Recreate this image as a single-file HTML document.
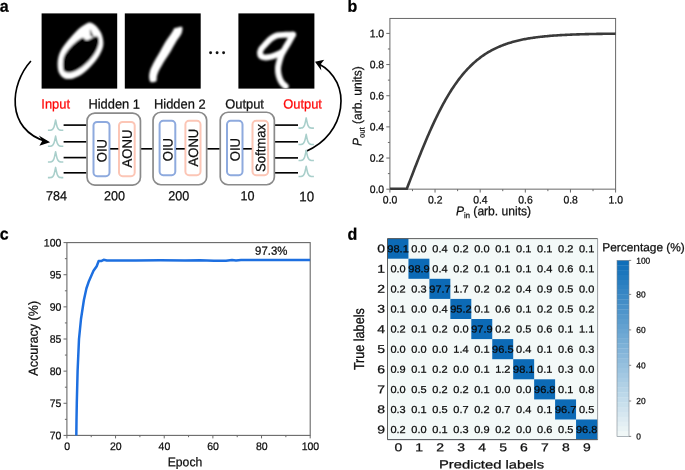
<!DOCTYPE html>
<html lang="en"><head><meta charset="utf-8"><title>Figure</title>
<style>html,body{margin:0;padding:0;background:#fff;}body{width:685px;height:470px;overflow:hidden;}svg{display:block;will-change:transform;}text{font-family:"Liberation Sans", Arial, Helvetica, sans-serif;stroke:#0f0f0f;stroke-width:0.24px;}.red{fill:#ff0808;stroke:#ff0808;}.pl{fill:#000;stroke:#000;}.ct{fill:#0a0a0a;stroke:#0a0a0a;}</style>
</head><body>
<svg width="685" height="470" viewBox="0 0 685 470" fill="#0f0f0f">
<defs>
<filter id="bl0" x="-20%" y="-20%" width="140%" height="140%"><feGaussianBlur stdDeviation="1.0"/></filter>
<filter id="bl1" x="-20%" y="-20%" width="140%" height="140%"><feGaussianBlur stdDeviation="1.1"/></filter>
<filter id="bl9" x="-20%" y="-20%" width="140%" height="140%"><feGaussianBlur stdDeviation="0.9"/></filter>
<linearGradient id="cb" x1="0" y1="0" x2="0" y2="1"><stop offset="0" stop-color="#0c6cb8"/><stop offset="1" stop-color="#f3f9f8"/></linearGradient>
<clipPath id="clipc"><rect x="67" y="242" width="243.5" height="193.4"/></clipPath>
<clipPath id="clipb"><rect x="389.5" y="18" width="226.6" height="172.0"/></clipPath>
<clipPath id="ci1"><rect x="41.6" y="13.4" width="75.6" height="75.2"/></clipPath>
<clipPath id="ci2"><rect x="124.8" y="13.4" width="75.9" height="75.2"/></clipPath>
<clipPath id="ci3"><rect x="238.4" y="13.4" width="76" height="75.2"/></clipPath>
<path id="pulse" d="M-7.7,0 L-5.2,0 C-3.4,-0.1 -2.3,-1.2 -1.6,-3.2 C-1.0,-5 -0.5,-7.5 0,-10.2 C0.5,-7.5 1.0,-5 1.6,-3.2 C2.3,-1.2 3.4,-0.1 5.2,0 L7.7,0" fill="none" stroke="#a9cfcb" stroke-width="1.55" stroke-linecap="butt" stroke-linejoin="round"/>
</defs>
<text transform="translate(-0.30,11.70) rotate(0.04) scale(1.000,1.040)" font-size="16" class="pl" font-weight="700" stroke-width="0.2">a</text>
<text transform="translate(347.40,11.80) rotate(0.04) scale(1.000,1.040)" font-size="16" class="pl" font-weight="700" stroke-width="0.2">b</text>
<text transform="translate(-0.30,239.60) rotate(0.04) scale(1.000,1.040)" font-size="16" class="pl" font-weight="700" stroke-width="0.2">c</text>
<text transform="translate(347.40,239.80) rotate(0.04) scale(1.000,1.040)" font-size="16" class="pl" font-weight="700" stroke-width="0.2">d</text>
<g id="panel-a">
<rect x="41.6" y="13.4" width="75.6" height="75.2" fill="#000"/>
<rect x="124.8" y="13.4" width="75.9" height="75.2" fill="#000"/>
<rect x="238.4" y="13.4" width="76" height="75.2" fill="#000"/>
<g clip-path="url(#ci1)"><g filter="url(#bl0)">
<path d="M87.80,22.90 C85.70,23.60 82.78,25.57 80.10,27.80 C77.42,30.03 74.28,33.48 71.70,36.30 C69.12,39.12 66.60,41.90 64.60,44.70 C62.60,47.50 60.87,50.07 59.70,53.10 C58.53,56.13 57.72,59.62 57.60,62.90 C57.48,66.18 57.83,70.22 59.00,72.80 C60.17,75.38 62.25,77.47 64.60,78.40 C66.95,79.33 70.05,79.22 73.10,78.40 C76.15,77.58 79.63,75.85 82.90,73.50 C86.17,71.15 89.88,67.47 92.70,64.30 C95.52,61.13 98.03,57.77 99.80,54.50 C101.57,51.23 102.95,47.97 103.30,44.70 C103.65,41.43 102.85,37.72 101.90,34.90 C100.95,32.08 99.13,29.68 97.60,27.80 C96.07,25.92 94.33,24.42 92.70,23.60 C91.07,22.78 89.90,22.20 87.80,22.90 Z" fill="#fff"/>
<path d="M82.17,37.82 C79.65,38.75 74.75,42.87 71.80,45.80 C68.86,48.72 65.99,52.18 64.51,55.37 C63.02,58.57 62.91,62.27 62.91,64.95 C62.91,67.63 63.02,70.23 64.51,71.45 C65.99,72.66 68.99,72.91 71.80,72.25 C74.61,71.58 78.18,69.74 81.38,67.46 C84.57,65.18 88.29,61.78 90.95,58.57 C93.61,55.36 96.01,51.38 97.34,48.19 C98.67,45.00 99.20,41.41 98.93,39.41 C98.67,37.42 97.74,36.09 95.74,36.22 C93.75,36.36 89.22,39.95 86.96,40.21 C84.70,40.48 84.70,36.89 82.17,37.82 Z" fill="#000"/>
<path d="M90.3,29.8 L91.6,33.2 L93.4,36.2 L90.6,35.6 Z" fill="#111" stroke="#111" stroke-width="0.6"/>
</g></g>
<g clip-path="url(#ci2)"><g filter="url(#bl1)">
<path d="M174.40,28.20 C175.52,27.85 181.17,26.15 182.10,26.90 C183.03,27.65 182.15,31.91 181.40,33.80 C180.65,35.69 177.90,38.82 176.50,41.10 C175.10,43.38 172.49,48.29 170.90,50.90 C169.31,53.51 166.19,58.07 164.60,60.70 C163.01,63.33 160.03,68.53 159.00,70.60 C157.97,72.67 157.27,74.77 156.90,76.20 C156.53,77.63 157.05,80.53 156.20,81.30 C155.35,82.07 151.45,82.68 150.50,82.00 C149.55,81.32 149.10,77.91 149.10,76.20 C149.10,74.49 149.75,71.27 150.50,69.20 C151.25,67.13 153.38,63.14 154.70,60.70 C156.02,58.26 158.89,53.51 160.40,50.90 C161.91,48.29 164.60,43.35 166.00,41.10 C167.40,38.85 169.87,35.55 170.90,34.00 C171.93,32.45 173.23,30.27 173.70,29.50 C174.17,28.73 173.28,28.55 174.40,28.20 Z" fill="#fff"/>
</g></g>
<g clip-path="url(#ci3)"><g filter="url(#bl9)" fill="none" stroke="#fff" stroke-linecap="round" stroke-linejoin="round">
<path d="M293.00,34.60 C291.78,34.63 288.32,34.68 285.70,34.80 C283.08,34.92 279.68,34.70 277.30,35.30 C274.92,35.90 273.32,36.97 271.40,38.40 C269.48,39.83 267.53,42.07 265.80,43.90 C264.07,45.73 261.93,47.62 261.00,49.40 C260.07,51.18 259.80,53.30 260.20,54.60 C260.60,55.90 261.72,56.82 263.40,57.20 C265.08,57.58 267.87,57.42 270.30,56.90 C272.73,56.38 276.02,54.92 278.00,54.10 C279.98,53.28 281.50,52.35 282.20,52.00" stroke-width="5.9"/>
<path d="M293.00,34.60 C292.37,35.73 290.53,39.08 289.20,41.40 C287.87,43.72 286.23,46.38 285.00,48.50 C283.77,50.62 282.73,52.00 281.80,54.10 C280.87,56.20 280.03,58.77 279.40,61.10 C278.77,63.43 278.12,65.75 278.00,68.10 C277.88,70.45 278.12,72.85 278.70,75.20 C279.28,77.55 280.33,80.33 281.50,82.20 C282.67,84.07 285.00,85.70 285.70,86.40" stroke-width="6.0"/>
</g></g>
<circle cx="210.6" cy="52.7" r="1.45" fill="#111"/>
<circle cx="217.1" cy="52.7" r="1.45" fill="#111"/>
<circle cx="223.6" cy="52.7" r="1.45" fill="#111"/>
<path d="M30.9,61 C10,84 5,129.5 46.5,141.6" fill="none" stroke="#000" stroke-width="1.65"/>
<path d="M50.1,142.3 L38.8,135.6 L42.3,140.7 L39.4,145.8 Z" fill="#000"/>
<path d="M305.8,151.4 C346,135 354,82 318.2,63.4" fill="none" stroke="#000" stroke-width="1.65"/>
<path d="M315,61.7 L324.2,59.7 L320.5,64.6 L321.3,70.6 Z" fill="#000"/>
<text transform="translate(41.30,108.60) rotate(0.04) scale(1.000,1.040)" font-size="12.9" class="red">Input</text>
<text transform="translate(88.40,108.60) rotate(0.04) scale(1.000,1.040)" font-size="12.9">Hidden 1</text>
<text transform="translate(154.00,108.60) rotate(0.04) scale(1.000,1.040)" font-size="12.9">Hidden 2</text>
<text transform="translate(225.20,108.60) rotate(0.04) scale(1.000,1.040)" font-size="12.9">Output</text>
<text transform="translate(283.20,108.60) rotate(0.04) scale(1.000,1.040)" font-size="12.9" class="red">Output</text>
<use href="#pulse" x="55.6" y="130.2"/>
<use href="#pulse" x="55.6" y="146.3"/>
<use href="#pulse" x="55.6" y="161.9"/>
<use href="#pulse" x="55.6" y="177.6"/>
<use href="#pulse" x="306.2" y="128.1"/>
<use href="#pulse" x="306.2" y="144.5"/>
<use href="#pulse" x="306.2" y="160.4"/>
<use href="#pulse" x="306.2" y="176.4"/>
<line x1="63.6" y1="125.1" x2="86.6" y2="125.1" stroke="#000" stroke-width="1.65"/>
<line x1="63.6" y1="141.8" x2="86.6" y2="141.8" stroke="#000" stroke-width="1.65"/>
<line x1="63.6" y1="157.6" x2="86.6" y2="157.6" stroke="#000" stroke-width="1.65"/>
<line x1="63.6" y1="172.8" x2="86.6" y2="172.8" stroke="#000" stroke-width="1.65"/>
<line x1="275" y1="125.1" x2="298" y2="125.1" stroke="#000" stroke-width="1.65"/>
<line x1="275" y1="141.8" x2="298" y2="141.8" stroke="#000" stroke-width="1.65"/>
<line x1="275" y1="157.9" x2="298" y2="157.9" stroke="#000" stroke-width="1.65"/>
<line x1="275" y1="172.8" x2="298" y2="172.8" stroke="#000" stroke-width="1.65"/>
<line x1="141" y1="148.8" x2="152.6" y2="148.8" stroke="#000" stroke-width="1.65"/>
<line x1="207.2" y1="148.8" x2="219.8" y2="148.8" stroke="#000" stroke-width="1.65"/>
<rect x="87.05" y="113.05" width="53.40" height="72.00" rx="7.8" ry="7.8" fill="#fff" stroke="#8a8a8a" stroke-width="1.7"/>
<rect x="153.05" y="112.25" width="53.60" height="72.50" rx="7.8" ry="7.8" fill="#fff" stroke="#8a8a8a" stroke-width="1.7"/>
<rect x="220.25" y="112.25" width="54.10" height="72.50" rx="7.8" ry="7.8" fill="#fff" stroke="#8a8a8a" stroke-width="1.7"/>
<rect x="93.50" y="122.00" width="16.00" height="54.20" rx="3.6" ry="3.6" fill="none" stroke="#8eaade" stroke-width="2.0"/>
<rect x="119.00" y="122.00" width="15.70" height="54.20" rx="3.6" ry="3.6" fill="none" stroke="#fcc6b6" stroke-width="2.0"/>
<rect x="159.60" y="120.80" width="15.70" height="54.40" rx="3.6" ry="3.6" fill="none" stroke="#8eaade" stroke-width="2.0"/>
<rect x="185.40" y="120.80" width="15.10" height="54.40" rx="3.6" ry="3.6" fill="none" stroke="#fcc6b6" stroke-width="2.0"/>
<rect x="227.00" y="120.80" width="15.50" height="54.40" rx="3.6" ry="3.6" fill="none" stroke="#8eaade" stroke-width="2.0"/>
<rect x="252.50" y="120.80" width="15.60" height="54.40" rx="3.6" ry="3.6" fill="none" stroke="#fcc6b6" stroke-width="2.0"/>
<line x1="110.2" y1="148.8" x2="118.3" y2="148.8" stroke="#000" stroke-width="1.65"/>
<line x1="176" y1="148.8" x2="184.7" y2="148.8" stroke="#000" stroke-width="1.65"/>
<line x1="243.2" y1="148.8" x2="251.8" y2="148.8" stroke="#000" stroke-width="1.65"/>
<text transform="translate(106.50,150.60) rotate(-89.96) scale(1.000,1.040)" font-size="13.1" text-anchor="middle">OIU</text>
<text transform="translate(131.80,148.50) rotate(-89.96) scale(1.000,1.040)" font-size="13.1" text-anchor="middle">AONU</text>
<text transform="translate(172.40,149.60) rotate(-89.96) scale(1.000,1.040)" font-size="13.1" text-anchor="middle">OIU</text>
<text transform="translate(197.90,147.60) rotate(-89.96) scale(1.000,1.040)" font-size="13.1" text-anchor="middle">AONU</text>
<text transform="translate(239.70,149.60) rotate(-89.96) scale(1.000,1.040)" font-size="13.1" text-anchor="middle">OIU</text>
<text transform="translate(265.30,148.00) rotate(-89.96) scale(1.000,1.040)" font-size="13.1" text-anchor="middle">Softmax</text>
<text transform="translate(56.40,200.20) rotate(0.04) scale(1.000,1.040)" font-size="12.6" text-anchor="middle">784</text>
<text transform="translate(114.50,200.20) rotate(0.04) scale(1.000,1.040)" font-size="12.6" text-anchor="middle">200</text>
<text transform="translate(178.70,200.20) rotate(0.04) scale(1.000,1.040)" font-size="12.6" text-anchor="middle">200</text>
<text transform="translate(247.50,200.20) rotate(0.04) scale(1.000,1.040)" font-size="12.6" text-anchor="middle">10</text>
<text transform="translate(306.70,201.30) rotate(0.04) scale(1.000,1.040)" font-size="13.3" text-anchor="middle">10</text>
</g>
<g id="panel-b">
<rect x="389.9" y="18.45" width="225.70000000000005" height="170.70000000000002" fill="none" stroke="#686868" stroke-width="1"/>
<polyline clip-path="url(#clipb)" fill="none" stroke="#3a3a3a" stroke-width="2.6" stroke-linejoin="round" points="389.90,188.80 406.83,188.80 407.87,186.07 408.92,183.34 409.96,180.61 411.00,177.89 412.05,175.18 413.09,172.47 414.13,169.78 415.18,167.09 416.22,164.42 417.27,161.77 418.31,159.13 419.35,156.50 420.40,153.90 421.44,151.32 422.49,148.76 423.53,146.22 424.57,143.70 425.62,141.22 426.66,138.75 427.70,136.32 428.75,133.92 429.79,131.54 430.84,129.20 431.88,126.88 432.92,124.60 433.97,122.35 435.01,120.14 436.06,117.96 437.10,115.81 438.14,113.70 439.19,111.62 440.23,109.58 441.27,107.58 442.32,105.61 443.36,103.68 444.41,101.79 445.45,99.93 446.49,98.11 447.54,96.33 448.58,94.59 449.63,92.88 450.67,91.20 451.71,89.57 452.76,87.97 453.80,86.41 454.85,84.88 455.89,83.39 456.93,81.93 457.98,80.51 459.02,79.12 460.06,77.77 461.11,76.45 462.15,75.16 463.20,73.90 464.24,72.68 465.28,71.49 466.33,70.33 467.37,69.20 468.42,68.11 469.46,67.04 470.50,66.00 471.55,64.98 472.59,64.00 473.63,63.05 474.68,62.12 475.72,61.21 476.77,60.34 477.81,59.48 478.85,58.66 479.90,57.85 480.94,57.07 481.99,56.31 483.03,55.58 484.07,54.87 485.12,54.17 486.16,53.50 487.20,52.85 488.25,52.22 489.29,51.61 490.34,51.02 491.38,50.44 492.42,49.88 493.47,49.34 494.51,48.82 495.56,48.31 496.60,47.82 497.64,47.35 498.69,46.89 499.73,46.44 500.78,46.01 501.82,45.59 502.86,45.18 503.91,44.79 504.95,44.41 505.99,44.04 507.04,43.69 508.08,43.35 509.13,43.01 510.17,42.69 511.21,42.38 512.26,42.08 513.30,41.79 514.35,41.50 515.39,41.23 516.43,40.97 517.48,40.71 518.52,40.46 519.56,40.23 520.61,40.00 521.65,39.77 522.70,39.56 523.74,39.35 524.78,39.15 525.83,38.95 526.87,38.76 527.92,38.58 528.96,38.40 530.00,38.23 531.05,38.07 532.09,37.91 533.13,37.76 534.18,37.61 535.22,37.47 536.27,37.33 537.31,37.19 538.35,37.06 539.40,36.94 540.44,36.82 541.49,36.70 542.53,36.59 543.57,36.48 544.62,36.37 545.66,36.27 546.71,36.17 547.75,36.08 548.79,35.99 549.84,35.90 550.88,35.81 551.92,35.73 552.97,35.65 554.01,35.57 555.06,35.50 556.10,35.43 557.14,35.36 558.19,35.29 559.23,35.22 560.28,35.16 561.32,35.10 562.36,35.04 563.41,34.99 564.45,34.93 565.49,34.88 566.54,34.83 567.58,34.78 568.63,34.73 569.67,34.69 570.71,34.64 571.76,34.60 572.80,34.56 573.85,34.52 574.89,34.48 575.93,34.44 576.98,34.41 578.02,34.37 579.06,34.34 580.11,34.31 581.15,34.27 582.20,34.24 583.24,34.22 584.28,34.19 585.33,34.16 586.37,34.13 587.42,34.11 588.46,34.08 589.50,34.06 590.55,34.04 591.59,34.02 592.64,33.99 593.68,33.97 594.72,33.95 595.77,33.94 596.81,33.92 597.85,33.90 598.90,33.88 599.94,33.87 600.99,33.85 602.03,33.83 603.07,33.82 604.12,33.80 605.16,33.79 606.21,33.78 607.25,33.76 608.29,33.75 609.34,33.74 610.38,33.73 611.42,33.72 612.47,33.71 613.51,33.69 614.56,33.68 615.60,33.67"/>
<line x1="386.30" y1="189.20" x2="389.90" y2="189.20" stroke="#686868" stroke-width="1"/>
<text transform="translate(384.10,192.95) rotate(0.04) scale(1.000,1.040)" font-size="10.4" text-anchor="end">0.0</text>
<line x1="389.90" y1="189.15" x2="389.90" y2="192.55" stroke="#686868" stroke-width="1"/>
<text transform="translate(390.10,203.60) rotate(0.04) scale(1.000,1.040)" font-size="10.4" text-anchor="middle">0.0</text>
<line x1="386.30" y1="158.04" x2="389.90" y2="158.04" stroke="#686868" stroke-width="1"/>
<text transform="translate(384.10,161.79) rotate(0.04) scale(1.000,1.040)" font-size="10.4" text-anchor="end">0.2</text>
<line x1="435.04" y1="189.15" x2="435.04" y2="192.55" stroke="#686868" stroke-width="1"/>
<text transform="translate(435.24,203.60) rotate(0.04) scale(1.000,1.040)" font-size="10.4" text-anchor="middle">0.2</text>
<line x1="386.30" y1="126.88" x2="389.90" y2="126.88" stroke="#686868" stroke-width="1"/>
<text transform="translate(384.10,130.63) rotate(0.04) scale(1.000,1.040)" font-size="10.4" text-anchor="end">0.4</text>
<line x1="480.18" y1="189.15" x2="480.18" y2="192.55" stroke="#686868" stroke-width="1"/>
<text transform="translate(480.38,203.60) rotate(0.04) scale(1.000,1.040)" font-size="10.4" text-anchor="middle">0.4</text>
<line x1="386.30" y1="95.72" x2="389.90" y2="95.72" stroke="#686868" stroke-width="1"/>
<text transform="translate(384.10,99.47) rotate(0.04) scale(1.000,1.040)" font-size="10.4" text-anchor="end">0.6</text>
<line x1="525.32" y1="189.15" x2="525.32" y2="192.55" stroke="#686868" stroke-width="1"/>
<text transform="translate(525.52,203.60) rotate(0.04) scale(1.000,1.040)" font-size="10.4" text-anchor="middle">0.6</text>
<line x1="386.30" y1="64.56" x2="389.90" y2="64.56" stroke="#686868" stroke-width="1"/>
<text transform="translate(384.10,68.31) rotate(0.04) scale(1.000,1.040)" font-size="10.4" text-anchor="end">0.8</text>
<line x1="570.46" y1="189.15" x2="570.46" y2="192.55" stroke="#686868" stroke-width="1"/>
<text transform="translate(570.66,203.60) rotate(0.04) scale(1.000,1.040)" font-size="10.4" text-anchor="middle">0.8</text>
<line x1="386.30" y1="33.40" x2="389.90" y2="33.40" stroke="#686868" stroke-width="1"/>
<text transform="translate(384.10,37.15) rotate(0.04) scale(1.000,1.040)" font-size="10.4" text-anchor="end">1.0</text>
<line x1="615.60" y1="189.15" x2="615.60" y2="192.55" stroke="#686868" stroke-width="1"/>
<text transform="translate(615.80,203.60) rotate(0.04) scale(1.000,1.040)" font-size="10.4" text-anchor="middle">1.0</text>
<line x1="387.90" y1="173.62" x2="389.90" y2="173.62" stroke="#686868" stroke-width="1"/>
<line x1="412.47" y1="189.15" x2="412.47" y2="191.15" stroke="#686868" stroke-width="1"/>
<line x1="387.90" y1="142.46" x2="389.90" y2="142.46" stroke="#686868" stroke-width="1"/>
<line x1="457.61" y1="189.15" x2="457.61" y2="191.15" stroke="#686868" stroke-width="1"/>
<line x1="387.90" y1="111.30" x2="389.90" y2="111.30" stroke="#686868" stroke-width="1"/>
<line x1="502.75" y1="189.15" x2="502.75" y2="191.15" stroke="#686868" stroke-width="1"/>
<line x1="387.90" y1="80.14" x2="389.90" y2="80.14" stroke="#686868" stroke-width="1"/>
<line x1="547.89" y1="189.15" x2="547.89" y2="191.15" stroke="#686868" stroke-width="1"/>
<line x1="387.90" y1="48.98" x2="389.90" y2="48.98" stroke="#686868" stroke-width="1"/>
<line x1="593.03" y1="189.15" x2="593.03" y2="191.15" stroke="#686868" stroke-width="1"/>
<text transform="translate(456.00,215.20) rotate(0.04) scale(1.000,1.040)" font-size="12.1"><tspan font-style="italic">P</tspan><tspan font-size="7.6" dy="2.8">in</tspan><tspan dy="-2.8"> (arb. units)</tspan></text>
<text transform="translate(361.50,146.00) rotate(-89.96) scale(1.000,1.040)" font-size="12.1"><tspan font-style="italic">P</tspan><tspan font-size="7.6" dy="2.8">out</tspan><tspan dy="-2.8"> (arb. units)</tspan></text>
</g>
<g id="panel-c">
<rect x="66.9" y="242.6" width="243.29999999999998" height="192.79999999999998" fill="none" stroke="#686868" stroke-width="1.1"/>
<polyline clip-path="url(#clipc)" fill="none" stroke="#1d6fe0" stroke-width="2.5" stroke-linejoin="round" points="76.30,437.00 76.50,420.00 76.80,403.00 77.60,371.00 79.00,339.00 81.00,319.00 83.90,300.00 86.40,288.50 89.00,280.90 93.50,270.70 96.70,266.20 98.60,261.10 101.10,261.10 103.70,259.80 106.90,260.40 136.00,260.40 160.00,260.30 185.00,260.60 200.00,260.30 214.00,260.80 226.00,260.70 232.00,260.10 236.00,260.50 241.00,260.10 310.20,260.10"/>
<line x1="63.50" y1="435.40" x2="66.90" y2="435.40" stroke="#686868" stroke-width="1"/>
<text transform="translate(61.30,439.20) rotate(0.04) scale(1.000,1.040)" font-size="10.5" text-anchor="end">70</text>
<line x1="64.90" y1="419.33" x2="66.90" y2="419.33" stroke="#686868" stroke-width="1"/>
<line x1="63.50" y1="403.27" x2="66.90" y2="403.27" stroke="#686868" stroke-width="1"/>
<text transform="translate(61.30,407.07) rotate(0.04) scale(1.000,1.040)" font-size="10.5" text-anchor="end">75</text>
<line x1="64.90" y1="387.20" x2="66.90" y2="387.20" stroke="#686868" stroke-width="1"/>
<line x1="63.50" y1="371.13" x2="66.90" y2="371.13" stroke="#686868" stroke-width="1"/>
<text transform="translate(61.30,374.93) rotate(0.04) scale(1.000,1.040)" font-size="10.5" text-anchor="end">80</text>
<line x1="64.90" y1="355.07" x2="66.90" y2="355.07" stroke="#686868" stroke-width="1"/>
<line x1="63.50" y1="339.00" x2="66.90" y2="339.00" stroke="#686868" stroke-width="1"/>
<text transform="translate(61.30,342.80) rotate(0.04) scale(1.000,1.040)" font-size="10.5" text-anchor="end">85</text>
<line x1="64.90" y1="322.93" x2="66.90" y2="322.93" stroke="#686868" stroke-width="1"/>
<line x1="63.50" y1="306.87" x2="66.90" y2="306.87" stroke="#686868" stroke-width="1"/>
<text transform="translate(61.30,310.67) rotate(0.04) scale(1.000,1.040)" font-size="10.5" text-anchor="end">90</text>
<line x1="64.90" y1="290.80" x2="66.90" y2="290.80" stroke="#686868" stroke-width="1"/>
<line x1="63.50" y1="274.73" x2="66.90" y2="274.73" stroke="#686868" stroke-width="1"/>
<text transform="translate(61.30,278.53) rotate(0.04) scale(1.000,1.040)" font-size="10.5" text-anchor="end">95</text>
<line x1="64.90" y1="258.67" x2="66.90" y2="258.67" stroke="#686868" stroke-width="1"/>
<line x1="63.50" y1="242.60" x2="66.90" y2="242.60" stroke="#686868" stroke-width="1"/>
<text transform="translate(61.30,246.40) rotate(0.04) scale(1.000,1.040)" font-size="10.5" text-anchor="end">100</text>
<line x1="66.90" y1="435.40" x2="66.90" y2="438.40" stroke="#686868" stroke-width="1"/>
<text transform="translate(67.10,450.10) rotate(0.04) scale(1.000,1.040)" font-size="10.5" text-anchor="middle">0</text>
<line x1="91.23" y1="435.40" x2="91.23" y2="437.20" stroke="#686868" stroke-width="1"/>
<line x1="115.56" y1="435.40" x2="115.56" y2="438.40" stroke="#686868" stroke-width="1"/>
<text transform="translate(115.76,450.10) rotate(0.04) scale(1.000,1.040)" font-size="10.5" text-anchor="middle">20</text>
<line x1="139.89" y1="435.40" x2="139.89" y2="437.20" stroke="#686868" stroke-width="1"/>
<line x1="164.22" y1="435.40" x2="164.22" y2="438.40" stroke="#686868" stroke-width="1"/>
<text transform="translate(164.42,450.10) rotate(0.04) scale(1.000,1.040)" font-size="10.5" text-anchor="middle">40</text>
<line x1="188.55" y1="435.40" x2="188.55" y2="437.20" stroke="#686868" stroke-width="1"/>
<line x1="212.88" y1="435.40" x2="212.88" y2="438.40" stroke="#686868" stroke-width="1"/>
<text transform="translate(213.08,450.10) rotate(0.04) scale(1.000,1.040)" font-size="10.5" text-anchor="middle">60</text>
<line x1="237.21" y1="435.40" x2="237.21" y2="437.20" stroke="#686868" stroke-width="1"/>
<line x1="261.54" y1="435.40" x2="261.54" y2="438.40" stroke="#686868" stroke-width="1"/>
<text transform="translate(261.74,450.10) rotate(0.04) scale(1.000,1.040)" font-size="10.5" text-anchor="middle">80</text>
<line x1="285.87" y1="435.40" x2="285.87" y2="437.20" stroke="#686868" stroke-width="1"/>
<line x1="310.20" y1="435.40" x2="310.20" y2="438.40" stroke="#686868" stroke-width="1"/>
<text transform="translate(310.40,450.10) rotate(0.04) scale(1.000,1.040)" font-size="10.5" text-anchor="middle">100</text>
<text transform="translate(185.00,466.20) rotate(0.04) scale(1.000,1.040)" font-size="12.2" text-anchor="middle">Epoch</text>
<text transform="translate(37.80,338.30) rotate(-89.96) scale(1.000,1.040)" font-size="12.6" text-anchor="middle">Accuracy (%)</text>
<text transform="translate(271.20,254.70) rotate(0.04) scale(1.000,1.040)" font-size="11.4" text-anchor="middle">97.3%</text>
</g>
<g id="panel-d">
<rect x="387.5" y="238.6" width="210.10000000000002" height="201.00000000000003" fill="#f3f9f8"/>
<rect x="387.50" y="238.60" width="20.95" height="20.10" fill="#0c6ab6"/>
<rect x="408.45" y="258.70" width="20.95" height="20.10" fill="#0c6ab6"/>
<rect x="429.40" y="278.80" width="20.95" height="20.10" fill="#0c6ab6"/>
<rect x="450.35" y="298.90" width="20.95" height="20.10" fill="#0c6ab6"/>
<rect x="471.30" y="319.00" width="20.95" height="20.10" fill="#0c6ab6"/>
<rect x="492.25" y="339.10" width="20.95" height="20.10" fill="#0c6ab6"/>
<rect x="513.20" y="359.20" width="20.95" height="20.10" fill="#0c6ab6"/>
<rect x="534.15" y="379.30" width="20.95" height="20.10" fill="#0c6ab6"/>
<rect x="555.10" y="399.40" width="20.95" height="20.10" fill="#0c6ab6"/>
<rect x="576.05" y="419.50" width="21.55" height="20.10" fill="#0c6ab6"/>
<path d="M597.6,238.6 V439.6 H387.5" fill="none" stroke="#8e9499" stroke-width="0.9"/>
<path d="M387.5,439.6 H597.6" fill="none" stroke="#50555a" stroke-width="0.9"/>
<path d="M387.5,439.6 V238.6 H597.6" fill="none" stroke="#4d4d4d" stroke-width="0.9"/>
<text transform="translate(398.08,252.20) rotate(0.04) scale(1.125,1.040)" font-size="9.8" text-anchor="middle" class="ct">98.1</text>
<text transform="translate(419.03,252.20) rotate(0.04) scale(1.125,1.040)" font-size="9.8" text-anchor="middle" class="ct">0.0</text>
<text transform="translate(439.98,252.20) rotate(0.04) scale(1.125,1.040)" font-size="9.8" text-anchor="middle" class="ct">0.4</text>
<text transform="translate(460.93,252.20) rotate(0.04) scale(1.125,1.040)" font-size="9.8" text-anchor="middle" class="ct">0.2</text>
<text transform="translate(481.88,252.20) rotate(0.04) scale(1.125,1.040)" font-size="9.8" text-anchor="middle" class="ct">0.0</text>
<text transform="translate(502.83,252.20) rotate(0.04) scale(1.125,1.040)" font-size="9.8" text-anchor="middle" class="ct">0.1</text>
<text transform="translate(523.77,252.20) rotate(0.04) scale(1.125,1.040)" font-size="9.8" text-anchor="middle" class="ct">0.1</text>
<text transform="translate(544.73,252.20) rotate(0.04) scale(1.125,1.040)" font-size="9.8" text-anchor="middle" class="ct">0.1</text>
<text transform="translate(565.68,252.20) rotate(0.04) scale(1.125,1.040)" font-size="9.8" text-anchor="middle" class="ct">0.2</text>
<text transform="translate(586.62,252.20) rotate(0.04) scale(1.125,1.040)" font-size="9.8" text-anchor="middle" class="ct">0.1</text>
<text transform="translate(398.08,272.30) rotate(0.04) scale(1.125,1.040)" font-size="9.8" text-anchor="middle" class="ct">0.0</text>
<text transform="translate(419.03,272.30) rotate(0.04) scale(1.125,1.040)" font-size="9.8" text-anchor="middle" class="ct">98.9</text>
<text transform="translate(439.98,272.30) rotate(0.04) scale(1.125,1.040)" font-size="9.8" text-anchor="middle" class="ct">0.4</text>
<text transform="translate(460.93,272.30) rotate(0.04) scale(1.125,1.040)" font-size="9.8" text-anchor="middle" class="ct">0.2</text>
<text transform="translate(481.88,272.30) rotate(0.04) scale(1.125,1.040)" font-size="9.8" text-anchor="middle" class="ct">0.1</text>
<text transform="translate(502.83,272.30) rotate(0.04) scale(1.125,1.040)" font-size="9.8" text-anchor="middle" class="ct">0.1</text>
<text transform="translate(523.77,272.30) rotate(0.04) scale(1.125,1.040)" font-size="9.8" text-anchor="middle" class="ct">0.1</text>
<text transform="translate(544.73,272.30) rotate(0.04) scale(1.125,1.040)" font-size="9.8" text-anchor="middle" class="ct">0.4</text>
<text transform="translate(565.68,272.30) rotate(0.04) scale(1.125,1.040)" font-size="9.8" text-anchor="middle" class="ct">0.6</text>
<text transform="translate(586.62,272.30) rotate(0.04) scale(1.125,1.040)" font-size="9.8" text-anchor="middle" class="ct">0.1</text>
<text transform="translate(398.08,292.40) rotate(0.04) scale(1.125,1.040)" font-size="9.8" text-anchor="middle" class="ct">0.2</text>
<text transform="translate(419.03,292.40) rotate(0.04) scale(1.125,1.040)" font-size="9.8" text-anchor="middle" class="ct">0.3</text>
<text transform="translate(439.98,292.40) rotate(0.04) scale(1.125,1.040)" font-size="9.8" text-anchor="middle" class="ct">97.7</text>
<text transform="translate(460.93,292.40) rotate(0.04) scale(1.125,1.040)" font-size="9.8" text-anchor="middle" class="ct">1.7</text>
<text transform="translate(481.88,292.40) rotate(0.04) scale(1.125,1.040)" font-size="9.8" text-anchor="middle" class="ct">0.2</text>
<text transform="translate(502.83,292.40) rotate(0.04) scale(1.125,1.040)" font-size="9.8" text-anchor="middle" class="ct">0.2</text>
<text transform="translate(523.77,292.40) rotate(0.04) scale(1.125,1.040)" font-size="9.8" text-anchor="middle" class="ct">0.4</text>
<text transform="translate(544.73,292.40) rotate(0.04) scale(1.125,1.040)" font-size="9.8" text-anchor="middle" class="ct">0.9</text>
<text transform="translate(565.68,292.40) rotate(0.04) scale(1.125,1.040)" font-size="9.8" text-anchor="middle" class="ct">0.5</text>
<text transform="translate(586.62,292.40) rotate(0.04) scale(1.125,1.040)" font-size="9.8" text-anchor="middle" class="ct">0.0</text>
<text transform="translate(398.08,312.50) rotate(0.04) scale(1.125,1.040)" font-size="9.8" text-anchor="middle" class="ct">0.1</text>
<text transform="translate(419.03,312.50) rotate(0.04) scale(1.125,1.040)" font-size="9.8" text-anchor="middle" class="ct">0.0</text>
<text transform="translate(439.98,312.50) rotate(0.04) scale(1.125,1.040)" font-size="9.8" text-anchor="middle" class="ct">0.4</text>
<text transform="translate(460.93,312.50) rotate(0.04) scale(1.125,1.040)" font-size="9.8" text-anchor="middle" class="ct">95.2</text>
<text transform="translate(481.88,312.50) rotate(0.04) scale(1.125,1.040)" font-size="9.8" text-anchor="middle" class="ct">0.1</text>
<text transform="translate(502.83,312.50) rotate(0.04) scale(1.125,1.040)" font-size="9.8" text-anchor="middle" class="ct">0.6</text>
<text transform="translate(523.77,312.50) rotate(0.04) scale(1.125,1.040)" font-size="9.8" text-anchor="middle" class="ct">0.1</text>
<text transform="translate(544.73,312.50) rotate(0.04) scale(1.125,1.040)" font-size="9.8" text-anchor="middle" class="ct">0.2</text>
<text transform="translate(565.68,312.50) rotate(0.04) scale(1.125,1.040)" font-size="9.8" text-anchor="middle" class="ct">0.5</text>
<text transform="translate(586.62,312.50) rotate(0.04) scale(1.125,1.040)" font-size="9.8" text-anchor="middle" class="ct">0.2</text>
<text transform="translate(398.08,332.60) rotate(0.04) scale(1.125,1.040)" font-size="9.8" text-anchor="middle" class="ct">0.2</text>
<text transform="translate(419.03,332.60) rotate(0.04) scale(1.125,1.040)" font-size="9.8" text-anchor="middle" class="ct">0.1</text>
<text transform="translate(439.98,332.60) rotate(0.04) scale(1.125,1.040)" font-size="9.8" text-anchor="middle" class="ct">0.2</text>
<text transform="translate(460.93,332.60) rotate(0.04) scale(1.125,1.040)" font-size="9.8" text-anchor="middle" class="ct">0.0</text>
<text transform="translate(481.88,332.60) rotate(0.04) scale(1.125,1.040)" font-size="9.8" text-anchor="middle" class="ct">97.9</text>
<text transform="translate(502.83,332.60) rotate(0.04) scale(1.125,1.040)" font-size="9.8" text-anchor="middle" class="ct">0.2</text>
<text transform="translate(523.77,332.60) rotate(0.04) scale(1.125,1.040)" font-size="9.8" text-anchor="middle" class="ct">0.5</text>
<text transform="translate(544.73,332.60) rotate(0.04) scale(1.125,1.040)" font-size="9.8" text-anchor="middle" class="ct">0.6</text>
<text transform="translate(565.68,332.60) rotate(0.04) scale(1.125,1.040)" font-size="9.8" text-anchor="middle" class="ct">0.1</text>
<text transform="translate(586.62,332.60) rotate(0.04) scale(1.125,1.040)" font-size="9.8" text-anchor="middle" class="ct">1.1</text>
<text transform="translate(398.08,352.70) rotate(0.04) scale(1.125,1.040)" font-size="9.8" text-anchor="middle" class="ct">0.0</text>
<text transform="translate(419.03,352.70) rotate(0.04) scale(1.125,1.040)" font-size="9.8" text-anchor="middle" class="ct">0.0</text>
<text transform="translate(439.98,352.70) rotate(0.04) scale(1.125,1.040)" font-size="9.8" text-anchor="middle" class="ct">0.0</text>
<text transform="translate(460.93,352.70) rotate(0.04) scale(1.125,1.040)" font-size="9.8" text-anchor="middle" class="ct">1.4</text>
<text transform="translate(481.88,352.70) rotate(0.04) scale(1.125,1.040)" font-size="9.8" text-anchor="middle" class="ct">0.1</text>
<text transform="translate(502.83,352.70) rotate(0.04) scale(1.125,1.040)" font-size="9.8" text-anchor="middle" class="ct">96.5</text>
<text transform="translate(523.77,352.70) rotate(0.04) scale(1.125,1.040)" font-size="9.8" text-anchor="middle" class="ct">0.4</text>
<text transform="translate(544.73,352.70) rotate(0.04) scale(1.125,1.040)" font-size="9.8" text-anchor="middle" class="ct">0.1</text>
<text transform="translate(565.68,352.70) rotate(0.04) scale(1.125,1.040)" font-size="9.8" text-anchor="middle" class="ct">0.6</text>
<text transform="translate(586.62,352.70) rotate(0.04) scale(1.125,1.040)" font-size="9.8" text-anchor="middle" class="ct">0.3</text>
<text transform="translate(398.08,372.80) rotate(0.04) scale(1.125,1.040)" font-size="9.8" text-anchor="middle" class="ct">0.9</text>
<text transform="translate(419.03,372.80) rotate(0.04) scale(1.125,1.040)" font-size="9.8" text-anchor="middle" class="ct">0.1</text>
<text transform="translate(439.98,372.80) rotate(0.04) scale(1.125,1.040)" font-size="9.8" text-anchor="middle" class="ct">0.2</text>
<text transform="translate(460.93,372.80) rotate(0.04) scale(1.125,1.040)" font-size="9.8" text-anchor="middle" class="ct">0.0</text>
<text transform="translate(481.88,372.80) rotate(0.04) scale(1.125,1.040)" font-size="9.8" text-anchor="middle" class="ct">0.1</text>
<text transform="translate(502.83,372.80) rotate(0.04) scale(1.125,1.040)" font-size="9.8" text-anchor="middle" class="ct">1.2</text>
<text transform="translate(523.77,372.80) rotate(0.04) scale(1.125,1.040)" font-size="9.8" text-anchor="middle" class="ct">98.1</text>
<text transform="translate(544.73,372.80) rotate(0.04) scale(1.125,1.040)" font-size="9.8" text-anchor="middle" class="ct">0.1</text>
<text transform="translate(565.68,372.80) rotate(0.04) scale(1.125,1.040)" font-size="9.8" text-anchor="middle" class="ct">0.3</text>
<text transform="translate(586.62,372.80) rotate(0.04) scale(1.125,1.040)" font-size="9.8" text-anchor="middle" class="ct">0.0</text>
<text transform="translate(398.08,392.90) rotate(0.04) scale(1.125,1.040)" font-size="9.8" text-anchor="middle" class="ct">0.0</text>
<text transform="translate(419.03,392.90) rotate(0.04) scale(1.125,1.040)" font-size="9.8" text-anchor="middle" class="ct">0.5</text>
<text transform="translate(439.98,392.90) rotate(0.04) scale(1.125,1.040)" font-size="9.8" text-anchor="middle" class="ct">0.2</text>
<text transform="translate(460.93,392.90) rotate(0.04) scale(1.125,1.040)" font-size="9.8" text-anchor="middle" class="ct">0.2</text>
<text transform="translate(481.88,392.90) rotate(0.04) scale(1.125,1.040)" font-size="9.8" text-anchor="middle" class="ct">0.1</text>
<text transform="translate(502.83,392.90) rotate(0.04) scale(1.125,1.040)" font-size="9.8" text-anchor="middle" class="ct">0.0</text>
<text transform="translate(523.77,392.90) rotate(0.04) scale(1.125,1.040)" font-size="9.8" text-anchor="middle" class="ct">0.0</text>
<text transform="translate(544.73,392.90) rotate(0.04) scale(1.125,1.040)" font-size="9.8" text-anchor="middle" class="ct">96.8</text>
<text transform="translate(565.68,392.90) rotate(0.04) scale(1.125,1.040)" font-size="9.8" text-anchor="middle" class="ct">0.1</text>
<text transform="translate(586.62,392.90) rotate(0.04) scale(1.125,1.040)" font-size="9.8" text-anchor="middle" class="ct">0.8</text>
<text transform="translate(398.08,413.00) rotate(0.04) scale(1.125,1.040)" font-size="9.8" text-anchor="middle" class="ct">0.3</text>
<text transform="translate(419.03,413.00) rotate(0.04) scale(1.125,1.040)" font-size="9.8" text-anchor="middle" class="ct">0.1</text>
<text transform="translate(439.98,413.00) rotate(0.04) scale(1.125,1.040)" font-size="9.8" text-anchor="middle" class="ct">0.5</text>
<text transform="translate(460.93,413.00) rotate(0.04) scale(1.125,1.040)" font-size="9.8" text-anchor="middle" class="ct">0.7</text>
<text transform="translate(481.88,413.00) rotate(0.04) scale(1.125,1.040)" font-size="9.8" text-anchor="middle" class="ct">0.2</text>
<text transform="translate(502.83,413.00) rotate(0.04) scale(1.125,1.040)" font-size="9.8" text-anchor="middle" class="ct">0.7</text>
<text transform="translate(523.77,413.00) rotate(0.04) scale(1.125,1.040)" font-size="9.8" text-anchor="middle" class="ct">0.4</text>
<text transform="translate(544.73,413.00) rotate(0.04) scale(1.125,1.040)" font-size="9.8" text-anchor="middle" class="ct">0.1</text>
<text transform="translate(565.68,413.00) rotate(0.04) scale(1.125,1.040)" font-size="9.8" text-anchor="middle" class="ct">96.7</text>
<text transform="translate(586.62,413.00) rotate(0.04) scale(1.125,1.040)" font-size="9.8" text-anchor="middle" class="ct">0.5</text>
<text transform="translate(398.08,433.10) rotate(0.04) scale(1.125,1.040)" font-size="9.8" text-anchor="middle" class="ct">0.2</text>
<text transform="translate(419.03,433.10) rotate(0.04) scale(1.125,1.040)" font-size="9.8" text-anchor="middle" class="ct">0.0</text>
<text transform="translate(439.98,433.10) rotate(0.04) scale(1.125,1.040)" font-size="9.8" text-anchor="middle" class="ct">0.1</text>
<text transform="translate(460.93,433.10) rotate(0.04) scale(1.125,1.040)" font-size="9.8" text-anchor="middle" class="ct">0.3</text>
<text transform="translate(481.88,433.10) rotate(0.04) scale(1.125,1.040)" font-size="9.8" text-anchor="middle" class="ct">0.9</text>
<text transform="translate(502.83,433.10) rotate(0.04) scale(1.125,1.040)" font-size="9.8" text-anchor="middle" class="ct">0.2</text>
<text transform="translate(523.77,433.10) rotate(0.04) scale(1.125,1.040)" font-size="9.8" text-anchor="middle" class="ct">0.0</text>
<text transform="translate(544.73,433.10) rotate(0.04) scale(1.125,1.040)" font-size="9.8" text-anchor="middle" class="ct">0.6</text>
<text transform="translate(565.68,433.10) rotate(0.04) scale(1.125,1.040)" font-size="9.8" text-anchor="middle" class="ct">0.5</text>
<text transform="translate(586.62,433.10) rotate(0.04) scale(1.125,1.040)" font-size="9.8" text-anchor="middle" class="ct">96.8</text>
<text transform="translate(381.20,252.55) rotate(0.04) scale(1.270,1.040)" font-size="11.0" text-anchor="middle" stroke-width="0.1">0</text>
<text transform="translate(398.28,451.20) rotate(0.04) scale(1.270,1.040)" font-size="11.0" text-anchor="middle" stroke-width="0.1">0</text>
<text transform="translate(381.20,272.65) rotate(0.04) scale(1.270,1.040)" font-size="11.0" text-anchor="middle" stroke-width="0.1">1</text>
<text transform="translate(419.23,451.20) rotate(0.04) scale(1.270,1.040)" font-size="11.0" text-anchor="middle" stroke-width="0.1">1</text>
<text transform="translate(381.20,292.75) rotate(0.04) scale(1.270,1.040)" font-size="11.0" text-anchor="middle" stroke-width="0.1">2</text>
<text transform="translate(440.18,451.20) rotate(0.04) scale(1.270,1.040)" font-size="11.0" text-anchor="middle" stroke-width="0.1">2</text>
<text transform="translate(381.20,312.85) rotate(0.04) scale(1.270,1.040)" font-size="11.0" text-anchor="middle" stroke-width="0.1">3</text>
<text transform="translate(461.12,451.20) rotate(0.04) scale(1.270,1.040)" font-size="11.0" text-anchor="middle" stroke-width="0.1">3</text>
<text transform="translate(381.20,332.95) rotate(0.04) scale(1.270,1.040)" font-size="11.0" text-anchor="middle" stroke-width="0.1">4</text>
<text transform="translate(482.07,451.20) rotate(0.04) scale(1.270,1.040)" font-size="11.0" text-anchor="middle" stroke-width="0.1">4</text>
<text transform="translate(381.20,353.05) rotate(0.04) scale(1.270,1.040)" font-size="11.0" text-anchor="middle" stroke-width="0.1">5</text>
<text transform="translate(503.03,451.20) rotate(0.04) scale(1.270,1.040)" font-size="11.0" text-anchor="middle" stroke-width="0.1">5</text>
<text transform="translate(381.20,373.15) rotate(0.04) scale(1.270,1.040)" font-size="11.0" text-anchor="middle" stroke-width="0.1">6</text>
<text transform="translate(523.97,451.20) rotate(0.04) scale(1.270,1.040)" font-size="11.0" text-anchor="middle" stroke-width="0.1">6</text>
<text transform="translate(381.20,393.25) rotate(0.04) scale(1.270,1.040)" font-size="11.0" text-anchor="middle" stroke-width="0.1">7</text>
<text transform="translate(544.92,451.20) rotate(0.04) scale(1.270,1.040)" font-size="11.0" text-anchor="middle" stroke-width="0.1">7</text>
<text transform="translate(381.20,413.35) rotate(0.04) scale(1.270,1.040)" font-size="11.0" text-anchor="middle" stroke-width="0.1">8</text>
<text transform="translate(565.88,451.20) rotate(0.04) scale(1.270,1.040)" font-size="11.0" text-anchor="middle" stroke-width="0.1">8</text>
<text transform="translate(381.20,433.45) rotate(0.04) scale(1.270,1.040)" font-size="11.0" text-anchor="middle" stroke-width="0.1">9</text>
<text transform="translate(586.82,451.20) rotate(0.04) scale(1.270,1.040)" font-size="11.0" text-anchor="middle" stroke-width="0.1">9</text>
<text transform="translate(491.50,468.40) rotate(0.04) scale(1.320,1.040)" font-size="11.2" text-anchor="middle" stroke-width="0.12">Predicted labels</text>
<text transform="translate(363.90,339.20) rotate(-89.96) scale(1.126,1.290)" font-size="11.2" text-anchor="middle">True labels</text>
<text transform="translate(602.20,251.20) rotate(0.04) scale(1.063,1.040)" font-size="11.2">Percentage (%)</text>
<rect x="617.0" y="260.30" width="12.0" height="5.19" fill="#0f6eb9"/>
<rect x="617.0" y="265.19" width="12.0" height="5.19" fill="#1672bb"/>
<rect x="617.0" y="270.08" width="12.0" height="5.19" fill="#1c76bc"/>
<rect x="617.0" y="274.98" width="12.0" height="5.19" fill="#227abe"/>
<rect x="617.0" y="279.87" width="12.0" height="5.19" fill="#297ec0"/>
<rect x="617.0" y="284.76" width="12.0" height="5.19" fill="#2f82c2"/>
<rect x="617.0" y="289.65" width="12.0" height="5.19" fill="#3685c4"/>
<rect x="617.0" y="294.54" width="12.0" height="5.19" fill="#3c89c5"/>
<rect x="617.0" y="299.43" width="12.0" height="5.19" fill="#438dc7"/>
<rect x="617.0" y="304.32" width="12.0" height="5.19" fill="#4991c9"/>
<rect x="617.0" y="309.22" width="12.0" height="5.19" fill="#4f95cb"/>
<rect x="617.0" y="314.11" width="12.0" height="5.19" fill="#5699cc"/>
<rect x="617.0" y="319.00" width="12.0" height="5.19" fill="#5c9dce"/>
<rect x="617.0" y="323.89" width="12.0" height="5.19" fill="#63a1d0"/>
<rect x="617.0" y="328.78" width="12.0" height="5.19" fill="#69a5d2"/>
<rect x="617.0" y="333.68" width="12.0" height="5.19" fill="#6fa9d4"/>
<rect x="617.0" y="338.57" width="12.0" height="5.19" fill="#76add5"/>
<rect x="617.0" y="343.46" width="12.0" height="5.19" fill="#7cb1d7"/>
<rect x="617.0" y="348.35" width="12.0" height="5.19" fill="#83b4d9"/>
<rect x="617.0" y="353.24" width="12.0" height="5.19" fill="#89b8db"/>
<rect x="617.0" y="358.13" width="12.0" height="5.19" fill="#90bcdc"/>
<rect x="617.0" y="363.02" width="12.0" height="5.19" fill="#96c0de"/>
<rect x="617.0" y="367.92" width="12.0" height="5.19" fill="#9cc4e0"/>
<rect x="617.0" y="372.81" width="12.0" height="5.19" fill="#a3c8e2"/>
<rect x="617.0" y="377.70" width="12.0" height="5.19" fill="#a9cce4"/>
<rect x="617.0" y="382.59" width="12.0" height="5.19" fill="#b0d0e5"/>
<rect x="617.0" y="387.48" width="12.0" height="5.19" fill="#b6d4e7"/>
<rect x="617.0" y="392.38" width="12.0" height="5.19" fill="#bcd8e9"/>
<rect x="617.0" y="397.27" width="12.0" height="5.19" fill="#c3dceb"/>
<rect x="617.0" y="402.16" width="12.0" height="5.19" fill="#c9e0ec"/>
<rect x="617.0" y="407.05" width="12.0" height="5.19" fill="#d0e3ee"/>
<rect x="617.0" y="411.94" width="12.0" height="5.19" fill="#d6e7f0"/>
<rect x="617.0" y="416.83" width="12.0" height="5.19" fill="#ddebf2"/>
<rect x="617.0" y="421.73" width="12.0" height="5.19" fill="#e3eff4"/>
<rect x="617.0" y="426.62" width="12.0" height="5.19" fill="#e9f3f5"/>
<rect x="617.0" y="431.51" width="12.0" height="5.19" fill="#f0f7f7"/>
<rect x="617.0" y="260.3" width="12.0" height="176.09999999999997" fill="none" stroke="#7d8790" stroke-width="0.6"/>
<line x1="629.00" y1="436.40" x2="631.20" y2="436.40" stroke="#6a6a6a" stroke-width="0.8"/>
<text transform="translate(636.30,439.50) rotate(0.04) scale(1.000,1.040)" font-size="8.4">0</text>
<line x1="629.00" y1="401.00" x2="631.20" y2="401.00" stroke="#6a6a6a" stroke-width="0.8"/>
<text transform="translate(636.30,404.10) rotate(0.04) scale(1.000,1.040)" font-size="8.4">20</text>
<line x1="629.00" y1="365.30" x2="631.20" y2="365.30" stroke="#6a6a6a" stroke-width="0.8"/>
<text transform="translate(636.30,368.40) rotate(0.04) scale(1.000,1.040)" font-size="8.4">40</text>
<line x1="629.00" y1="329.90" x2="631.20" y2="329.90" stroke="#6a6a6a" stroke-width="0.8"/>
<text transform="translate(636.30,333.00) rotate(0.04) scale(1.000,1.040)" font-size="8.4">60</text>
<line x1="629.00" y1="294.40" x2="631.20" y2="294.40" stroke="#6a6a6a" stroke-width="0.8"/>
<text transform="translate(636.30,297.50) rotate(0.04) scale(1.000,1.040)" font-size="8.4">80</text>
<line x1="629.00" y1="260.40" x2="631.20" y2="260.40" stroke="#6a6a6a" stroke-width="0.8"/>
<text transform="translate(636.30,263.80) rotate(0.04) scale(1.000,1.040)" font-size="8.4">100</text>
</g>
</svg>
</body></html>
